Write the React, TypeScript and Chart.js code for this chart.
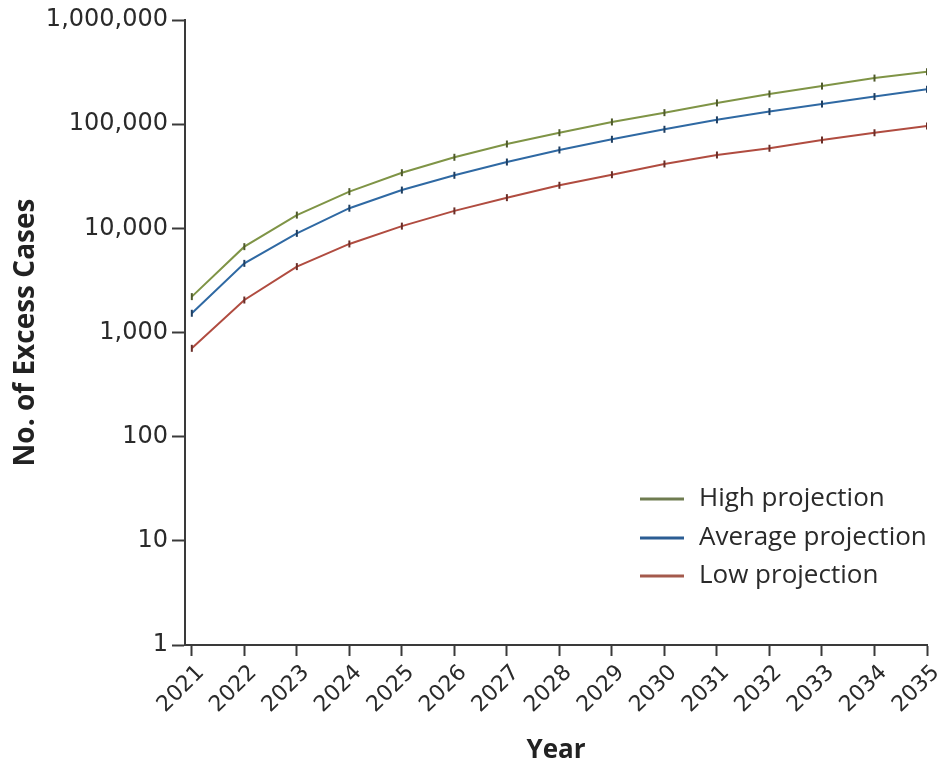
import React, { useEffect, useRef } from "react";
import { Chart, registerables } from "chart.js";

Chart.register(...registerables);

const years = [2021, 2022, 2023, 2024, 2025, 2026, 2027, 2028, 2029, 2030, 2031, 2032, 2033, 2034, 2035];
const highProjection = [2210, 6670, 13400, 22500, 34200, 48100, 64500, 82800, 105000, 129000, 160000, 195000, 232000, 277000, 319000];
const averageProjection = [1530, 4610, 8950, 15600, 23300, 32300, 43300, 56500, 71600, 89300, 110000, 132000, 156000, 184000, 216000];
const lowProjection = [705, 2050, 4290, 7080, 10500, 14700, 19700, 25900, 32700, 41500, 50600, 58700, 70500, 82700, 96000];
const yTickValues = [1, 10, 100, 1000, 10000, 100000, 1000000];
const seriesLabels = ["High projection", "Average projection", "Low projection"];
const seriesColors = ["#7f9446", "#2f69a3", "#b04c40"];
const markerColors = ["#4f5a2c", "#1f3f62", "#6a2e28"];
const legendColors = ["#6f7c50", "#2b5d93", "#a45a4c"];

const AXIS = "#3a3a3a";
const TICK_FONT = "'DejaVu Sans', sans-serif";

const legendPlugin = {
  id: "insideLegend",
  afterDraw(chart: any) {
    const { ctx, chartArea } = chart;
    const rows = [-146, -107, -69];
    ctx.save();
    chart.data.datasets.forEach((ds: any, i: number) => {
      const y = chartArea.bottom + rows[i];
      ctx.strokeStyle = legendColors[i];
      ctx.lineWidth = 3;
      ctx.beginPath();
      ctx.moveTo(chartArea.right - 287, y);
      ctx.lineTo(chartArea.right - 243, y);
      ctx.stroke();
      ctx.fillStyle = "#2a2a2a";
      ctx.font = "26px 'Open Sans', sans-serif";
      ctx.textBaseline = "middle";
      ctx.textAlign = "left";
      ctx.fillText(ds.label, chartArea.right - 228, y);
    });
    ctx.restore();
  },
};

export default function App() {
  const ref = useRef<HTMLCanvasElement | null>(null);

  useEffect(() => {
    document.body.style.margin = "0";
    document.body.style.overflow = "hidden";
    const canvas = ref.current;
    if (!canvas) return;
    const series = [highProjection, averageProjection, lowProjection];
    const chart = new Chart(canvas, {
      type: "line",
      data: {
        datasets: series.map((vals, i) => ({
          label: seriesLabels[i],
          data: years.map((yr, j) => ({ x: yr, y: vals[j] })),
          borderColor: seriesColors[i],
          backgroundColor: seriesColors[i],
          borderWidth: 2,
          tension: 0,
          pointStyle: "line",
          rotation: 90,
          pointRadius: 3.5,
          pointBorderColor: markerColors[i],
          pointBorderWidth: 2,
        })),
      },
      options: {
        animation: false,
        responsive: false,
        maintainAspectRatio: false,
        layout: { padding: { top: 20, right: 16, left: 0, bottom: 0 } },
        plugins: {
          legend: { display: false },
          tooltip: { enabled: false },
        },
        scales: {
          x: {
            type: "linear",
            min: 2020.87,
            max: 2035,
            afterBuildTicks: (scale: any) => {
              scale.ticks = years.map((v) => ({ value: v }));
            },
            afterFit: (scale: any) => {
              scale.height = 123;
              scale.paddingLeft = 0;
              scale.paddingRight = 0;
            },
            border: { display: true, color: AXIS, width: 2 },
            grid: {
              display: true,
              drawOnChartArea: false,
              drawTicks: true,
              tickLength: 11,
              tickWidth: 2,
              tickColor: AXIS,
            },
            ticks: {
              autoSkip: false,
              maxRotation: 45,
              minRotation: 45,
              color: "#2a2a2a",
              padding: 4,
              labelOffset: 9,
              font: { family: TICK_FONT, size: 22 },
              callback: (v: any) => String(v),
            },
            title: {
              display: true,
              text: "Year",
              color: "#222",
              font: { family: "'Open Sans', sans-serif", size: 26, weight: "bold" },
              padding: { top: 0, bottom: 2 },
            },
          },
          y: {
            type: "logarithmic",
            min: 1,
            max: 1000000,
            afterBuildTicks: (scale: any) => {
              scale.ticks = yTickValues.map((v) => ({ value: v }));
            },
            afterFit: (scale: any) => {
              scale.width = 185;
              scale.paddingTop = 0;
              scale.paddingBottom = 0;
            },
            border: { display: true, color: AXIS, width: 2 },
            grid: {
              display: true,
              drawOnChartArea: false,
              drawTicks: true,
              tickLength: 13,
              tickWidth: 2,
              tickColor: AXIS,
            },
            ticks: {
              color: "#2a2a2a",
              padding: 4,
              font: { family: TICK_FONT, size: 24 },
              callback: (v: any) => Number(v).toLocaleString("en-US"),
            },
            title: {
              display: true,
              text: "No. of Excess Cases",
              color: "#222",
              font: { family: "'Open Sans', sans-serif", size: 28, weight: "bold" },
              padding: { top: 9, bottom: 0 },
            },
          },
        },
      },
      plugins: [legendPlugin],
    });
    return () => chart.destroy();
  }, []);

  return (
    <div style={{ width: 943, height: 768 }}>
      <canvas ref={ref} width={943} height={768} />
    </div>
  );
}
